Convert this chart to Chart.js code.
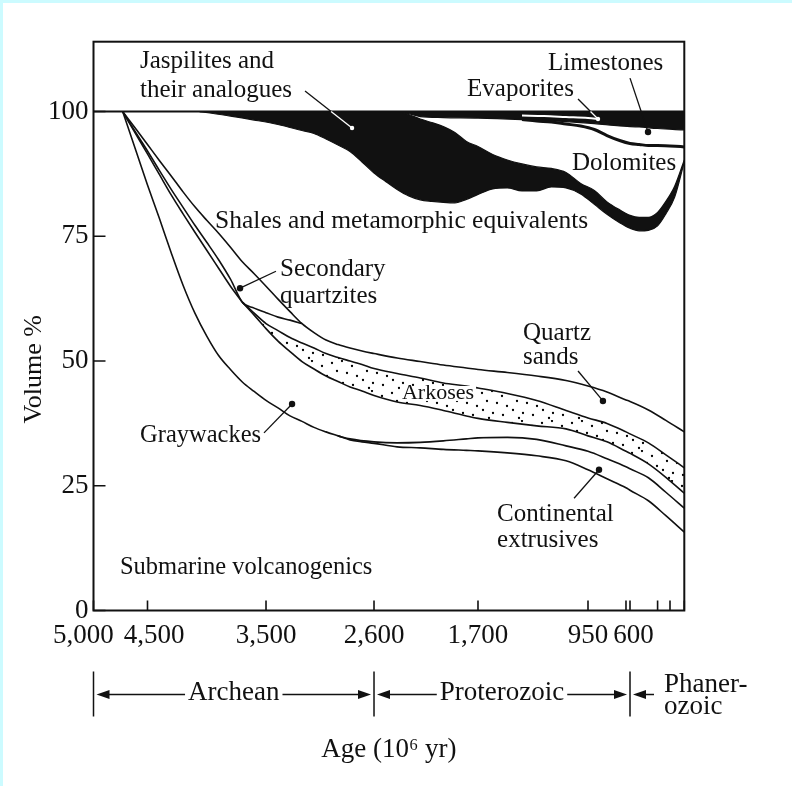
<!DOCTYPE html>
<html lang="en">
<head>
<meta charset="UTF-8">
<title>Sedimentary rock composition through time</title>
<script src="https://cdn.jsdelivr.net/npm/chart.js"></script>
<style>
    html, body { margin: 0; padding: 0; background: #fff; }
</style>
</head>
<body>
<canvas id="grafico" width="792" height="786"></canvas>

<script>
    // x axis: age in millions of years, drawn on a stretched geologic scale
    const tickAges = [5000, 4500, 3500, 2600, 1700, 950, 650, 600, 300, 150, 0];
    const tickLabels = ['5,000   ', '  4,500', '3,500', '2,600', '1,700', '950', '', ' 600', '', '', ''];
    const tickFrac = [0, 0.0914, 0.292, 0.4748, 0.6508, 0.837, 0.9013, 0.9081, 0.9548, 0.9758, 1];
    const volTicks = [0, 25, 50, 75, 100];

    // boundaries between rock types (volume %)
    const agesMain = [4730, 4600, 4500, 4400, 4300, 4200, 4100, 4000, 3900, 3800, 3700, 3600, 3500, 3400, 3300, 3200, 3100, 3000, 2900, 2800, 2700, 2600, 2400, 2200, 2000, 1800, 1700, 1500, 1300, 1100, 950, 800, 650, 600, 400, 200, 0];
    const volcanogenicTop = [100, 91.7, 85.3, 78.6, 71.7, 65.2, 59.6, 55.0, 51.1, 48.3, 45.8, 43.9, 42.1, 40.6, 39.0, 37.9, 36.7, 35.8, 35.0, 34.2, 33.8, 33.5, 32.8, 32.6, 32.3, 32.1, 32.0, 31.6, 31.0, 30.0, 28.2, 26.4, 24.6, 24.1, 22.0, 19.0, 15.7];
    const shaleBottom = [100, 96.3, 93.4, 90.2, 87.1, 83.9, 80.9, 78.2, 75.6, 72.8, 69.9, 67.5, 65.0, 62.4, 59.9, 57.5, 55.7, 54.2, 53.3, 52.6, 52.0, 51.5, 50.6, 49.9, 49.2, 48.6, 48.3, 47.7, 47.0, 46.1, 45.0, 43.8, 42.2, 41.9, 40.2, 38.1, 35.8];

    const agesExtrusive = [2900, 2800, 2600, 2400, 2200, 2000, 1800, 1700, 1500, 1300, 1100, 950, 800, 650, 600, 400, 200, 0];
    const extrusiveTop = [35.0, 34.4, 33.8, 33.6, 33.7, 34.0, 34.4, 34.6, 34.7, 34.3, 33.0, 31.9, 30.4, 28.8, 28.4, 26.6, 23.7, 20.5];

    const agesEarly = [4730, 4600, 4500, 4400, 4300, 4200, 4100, 4000, 3900, 3800, 3700];
    const graywackeTopEarly = [100, 95.2, 91.5, 87.4, 83.3, 79.5, 75.8, 72.2, 68.6, 65.0, 61.8];

    const agesArkose = [3700, 3600, 3500, 3400, 3300, 3200, 3100, 3000, 2900, 2800, 2700, 2600, 2400, 2200, 2000, 1800, 1700, 1500, 1300, 1100, 950, 800, 650, 600, 400, 200, 0];
    const arkoseBottom = [61.8, 59.2, 56.5, 54.0, 51.9, 49.9, 48.4, 47.0, 45.9, 44.8, 44.0, 43.1, 41.8, 41.1, 40.1, 39.0, 38.5, 37.7, 37.0, 36.4, 35.0, 33.8, 31.9, 31.5, 29.4, 26.7, 23.5];
    const arkoseTop = [61.8, 59.6, 57.5, 56.1, 54.7, 53.6, 52.6, 51.5, 50.7, 50.0, 49.3, 48.5, 47.5, 46.6, 45.6, 45.0, 44.6, 43.5, 42.1, 40.1, 38.6, 37.5, 35.8, 35.4, 33.6, 31.2, 28.6];

    const agesQuartzite = [4730, 4600, 4500, 4400, 4300, 4200, 4100, 4000, 3900, 3800, 3700, 3600, 3500, 3400, 3300, 3200];
    const quartziteBottom = [100, 95.5, 92.1, 88.2, 84.4, 80.8, 77.2, 73.8, 70.3, 66.4, 61.8, 60.6, 59.7, 58.8, 58.2, 57.5];

    // jaspilites: black mass between these two edges
    const agesJasp = [4060, 3800, 3600, 3400, 3200, 3100, 3000, 2900, 2800, 2700, 2600, 2500, 2400, 2300, 2200, 2100, 2000, 1900, 1800, 1700, 1600, 1500, 1400, 1300, 1200, 1100, 1000, 900, 800, 700, 600, 500, 400, 300, 200, 100, 0];
    const jaspTop = [100, 100, 100, 100, 100, 100, 100, 100, 100, 100, 100, 100, 100, 99.4, 98.5, 97.8, 97.0, 95.8, 94.0, 93.0, 91.4, 90.3, 89.5, 88.9, 88.6, 87.8, 85.6, 84.2, 81.9, 80.3, 79.2, 78.8, 78.8, 79.8, 82.0, 85.1, 90.3];
    const jaspBottom = [100, 99.1, 98.3, 97.4, 96.2, 95.6, 94.5, 93.3, 92.0, 89.9, 87.7, 86.0, 84.4, 83.1, 82.3, 82.0, 81.8, 81.7, 82.4, 83.4, 84.5, 84.7, 84.1, 84.1, 84.9, 84.7, 83.5, 81.4, 79.4, 77.7, 76.6, 76.1, 76.2, 77.1, 79.5, 82.9, 89.9];

    // carbonates and evaporites near the top
    const agesBand = [2400, 2300, 2200, 2000, 1700, 1400, 1100, 900, 700, 500, 300, 0];
    const bandBottom = [100, 99.6, 99.0, 98.8, 98.7, 98.4, 98.0, 97.6, 97.1, 96.9, 96.6, 96.3];
    const agesEvap = [1400, 1250, 1100, 950, 860];
    const evapLine = [99.2, 99.1, 98.9, 98.7, 98.5];
    const agesDolo = [1400, 1300, 1200, 1100, 1000, 900, 800, 700, 600, 500, 400, 300, 0];
    const doloTop = [98.4, 98.1, 97.9, 97.5, 97.1, 96.4, 95.2, 94.2, 93.6, 93.4, 93.2, 93.2, 92.9];

    // text labels: [text, age, volume %, font size, clear behind]
    const notes = [
        ['Jaspilites and', 4569, 110.1, 25],
        ['their analogues', 4569, 104.3, 25],
        ['Limestones', 1223, 109.7, 25],
        ['Evaporites', 1795, 104.5, 25],
        ['Dolomites', 1059, 89.7, 25],
        ['Shales and metamorphic equivalents', 3930, 78.1, 25.5],
        ['Secondary', 3383, 68.4, 25],
        ['quartzites', 3383, 63.0, 25],
        ['Quartz', 1393, 55.6, 25],
        ['sands', 1393, 50.8, 25],
        ['Arkoses', 2358, 43.6, 22, true],
        ['Graywackes', 4569, 35.0, 24.5],
        ['Continental', 1570, 19.3, 25],
        ['extrusives', 1570, 14.1, 25],
        ['Submarine volcanogenics', 4755, 8.7, 24.5]
    ];

    // leader lines: [fromAge, fromVol, toAge, toVol, turns white below this volume]
    const leaders = [
        [3175, 104.1, 2783, 96.7, 100],
        [1018, 102.5, 871, 98.5, 100],
        [600, 106.7, 404, 95.9, null],
        [3417, 68.0, 3719, 64.6, null],
        [1018, 48.0, 832, 42.0, null],
        [3517, 35.6, 3283, 41.4, null],
        [1045, 22.5, 863, 28.2, null]
    ];

    const eraBounds = [5000, 2600, 600, 0];
    const eraNames = ['Archean', 'Proterozoic', ['Phaner-', 'ozoic']];

    const ink = '#111';
    const serif = '"Liberation Serif", "Times New Roman", serif';

    function ageToFrac(age) {
        for (let i = 1; i < tickAges.length; i++) {
            if (age >= tickAges[i] || i === tickAges.length - 1) {
                const t = (tickAges[i - 1] - age) / (tickAges[i - 1] - tickAges[i]);
                return tickFrac[i - 1] + t * (tickFrac[i] - tickFrac[i - 1]);
            }
        }
        return 1;
    }

    function fracToAge(f) {
        for (let i = 1; i < tickFrac.length; i++) {
            if (f <= tickFrac[i] || i === tickFrac.length - 1) {
                const t = (f - tickFrac[i - 1]) / (tickFrac[i] - tickFrac[i - 1]);
                return tickAges[i - 1] + t * (tickAges[i] - tickAges[i - 1]);
            }
        }
        return 0;
    }

    class AgeScale extends Chart.LinearScale {
        buildTicks() {
            return tickAges.map(v => ({ value: v }));
        }
        getPixelForValue(value) {
            return this.left + this.width * ageToFrac(value);
        }
        getValueForPixel(pixel) {
            return fracToAge((pixel - this.left) / this.width);
        }
    }
    AgeScale.id = 'age';
    AgeScale.defaults = Chart.LinearScale.defaults;
    Chart.register(AgeScale);

    // stippled fill for the arkoses
    function stipple() {
        const c = document.createElement('canvas');
        c.width = 30;
        c.height = 30;
        const g = c.getContext('2d');
        g.fillStyle = '#000';
        [[2, 3], [12, 1], [22, 6], [7, 11], [17, 13], [27, 16], [3, 20], [13, 23], [23, 25], [9, 28]].forEach(([a, b]) => {
            g.beginPath();
            g.arc(a, b, 1.15, 0, Math.PI * 2);
            g.fill();
        });
        return g.createPattern(c, 'repeat');
    }

    function serie(ages, vols, extra) {
        return Object.assign({
            data: ages.map((a, i) => ({ x: a, y: vols[i] })),
            borderColor: ink,
            borderWidth: 1.6,
            pointRadius: 0,
            fill: false,
            order: 1
        }, extra || {});
    }

    function arrow(ctx, fromX, toX, y) {
        const dir = Math.sign(toX - fromX);
        ctx.beginPath();
        ctx.moveTo(fromX, y);
        ctx.lineTo(toX - dir * 8, y);
        ctx.stroke();
        ctx.beginPath();
        ctx.moveTo(toX, y);
        ctx.lineTo(toX - dir * 13, y - 4.5);
        ctx.lineTo(toX - dir * 13, y + 4.5);
        ctx.closePath();
        ctx.fill();
    }

    const decor = {
        id: 'decor',
        beforeDraw(chart) {
            const { ctx, width, height } = chart;
            ctx.save();
            ctx.fillStyle = '#fff';
            ctx.fillRect(0, 0, width, height);
            ctx.fillStyle = '#ccfbff';
            ctx.fillRect(0, 0, width, 3);
            ctx.fillRect(0, 0, 3, height);
            ctx.restore();
        },
        afterDraw(chart) {
            const { ctx, chartArea: a, scales: { x, y } } = chart;
            ctx.save();
            ctx.strokeStyle = ink;
            ctx.fillStyle = ink;

            // frame and inward ticks
            ctx.lineWidth = 2;
            ctx.strokeRect(a.left, a.top, a.right - a.left, a.bottom - a.top);
            ctx.lineWidth = 1.6;
            ctx.beginPath();
            x.ticks.forEach((t, i) => {
                const px = x.getPixelForTick(i);
                ctx.moveTo(px, a.bottom);
                ctx.lineTo(px, a.bottom - 10);
            });
            y.ticks.forEach((t, i) => {
                const py = y.getPixelForTick(i);
                ctx.moveTo(a.left, py);
                ctx.lineTo(a.left + 12, py);
            });
            ctx.stroke();

            // leader lines
            ctx.lineWidth = 1.3;
            leaders.forEach(([a0, v0, a1, v1, whiteBelow]) => {
                const x0 = x.getPixelForValue(a0), y0 = y.getPixelForValue(v0);
                const x1 = x.getPixelForValue(a1), y1 = y.getPixelForValue(v1);
                let xs = x1, ys = y1;
                if (whiteBelow !== null) {
                    ys = y.getPixelForValue(whiteBelow);
                    xs = x0 + (ys - y0) / (y1 - y0) * (x1 - x0);
                }
                ctx.strokeStyle = ink;
                ctx.beginPath();
                ctx.moveTo(x0, y0);
                ctx.lineTo(xs, ys);
                ctx.stroke();
                if (whiteBelow !== null) {
                    ctx.strokeStyle = '#fff';
                    ctx.beginPath();
                    ctx.moveTo(xs, ys);
                    ctx.lineTo(x1, y1);
                    ctx.stroke();
                }
                ctx.fillStyle = whiteBelow !== null ? '#fff' : ink;
                ctx.beginPath();
                ctx.arc(x1, y1, whiteBelow !== null ? 2.2 : 3.2, 0, Math.PI * 2);
                ctx.fill();
            });

            // labels inside the plot
            ctx.textAlign = 'left';
            ctx.textBaseline = 'middle';
            notes.forEach(([text, age, vol, size, clear]) => {
                const px = x.getPixelForValue(age), py = y.getPixelForValue(vol);
                ctx.font = size + 'px ' + serif;
                if (clear) {
                    ctx.fillStyle = '#fff';
                    ctx.fillRect(px - 2, py - 7, ctx.measureText(text).width + 4, 15);
                }
                ctx.fillStyle = ink;
                ctx.fillText(text, px, py);
            });

            // axis title for volume, centred a little below the middle as in the figure
            ctx.save();
            ctx.font = '26px ' + serif;
            ctx.textAlign = 'center';
            ctx.translate(34, a.top + (a.bottom - a.top) * 0.576);
            ctx.rotate(-Math.PI / 2);
            ctx.fillText('Volume %', 0, 0);
            ctx.restore();

            // eras under the age axis
            const barTop = a.bottom + 61, barBottom = a.bottom + 106, arrowY = a.bottom + 84;
            ctx.strokeStyle = ink;
            ctx.lineWidth = 1.5;
            ctx.beginPath();
            eraBounds.slice(0, -1).forEach(age => {
                const px = x.getPixelForValue(age);
                ctx.moveTo(px, barTop);
                ctx.lineTo(px, barBottom);
            });
            ctx.stroke();
            ctx.font = '27px ' + serif;
            eraNames.forEach((name, i) => {
                const left = x.getPixelForValue(eraBounds[i]);
                const right = x.getPixelForValue(eraBounds[i + 1]);
                if (Array.isArray(name)) {
                    arrow(ctx, left + 24, left + 3, arrowY);
                    ctx.textAlign = 'left';
                    name.forEach((line, k) => ctx.fillText(line, left + 34, arrowY - 10 + k * 22));
                    return;
                }
                const mid = (left + right) / 2;
                const w = ctx.measureText(name).width;
                ctx.textAlign = 'center';
                ctx.fillText(name, mid, arrowY - 2);
                arrow(ctx, mid - w / 2 - 3, left + 3, arrowY);
                arrow(ctx, mid + w / 2 + 3, right - 3, arrowY);
            });
            ctx.restore();
        }
    };

    const ctxGrafico = document.getElementById('grafico');

    new Chart(ctxGrafico, {
        type: 'line',
        data: {
            datasets: [
                serie([5000, 0], [100, 100], { borderWidth: 2, order: 0 }),
                serie(agesJasp, jaspTop, { borderWidth: 1.2 }),
                serie(agesJasp, jaspBottom, { borderWidth: 1.2, fill: 1, backgroundColor: ink, order: 2 }),
                serie(agesBand, bandBottom, { borderWidth: 1.2, fill: { value: 100 }, backgroundColor: ink, order: 2 }),
                serie(agesEvap, evapLine, { borderColor: '#fff', borderWidth: 2, order: 0 }),
                serie(agesDolo, doloTop, { borderWidth: 3 }),
                serie(agesMain, volcanogenicTop),
                serie(agesExtrusive, extrusiveTop),
                serie(agesEarly, graywackeTopEarly),
                serie(agesArkose, arkoseBottom, { fill: 10, backgroundColor: stipple(), order: 2 }),
                serie(agesArkose, arkoseTop),
                serie(agesQuartzite, quartziteBottom),
                serie(agesMain, shaleBottom)
            ]
        },
        options: {
            responsive: false,
            animation: false,
            events: [],
            layout: { padding: { top: 41.7, right: 107.7, left: 0, bottom: 0 } },
            elements: {
                line: { cubicInterpolationMode: 'monotone' }
            },
            plugins: {
                legend: { display: false },
                tooltip: { enabled: false }
            },
            scales: {
                x: {
                    type: 'age',
                    min: 0,
                    max: 5000,
                    grid: { display: false, drawTicks: false },
                    border: { display: false },
                    ticks: {
                        autoSkip: false,
                        maxRotation: 0,
                        padding: 9,
                        color: ink,
                        font: { family: serif, size: 27 },
                        callback: (value, index) => tickLabels[index]
                    },
                    title: {
                        display: true,
                        text: 'Age (10⁶ yr)',
                        color: ink,
                        font: { family: serif, size: 27 },
                        padding: { top: 0, bottom: 20 }
                    },
                    afterFit: scale => { scale.height = 175.5; }
                },
                y: {
                    min: 0,
                    max: 114,
                    afterBuildTicks: scale => { scale.ticks = volTicks.map(v => ({ value: v })); },
                    grid: { display: false, drawTicks: false },
                    border: { display: false },
                    ticks: {
                        padding: 5,
                        color: ink,
                        font: { family: serif, size: 27 }
                    },
                    afterFit: scale => { scale.width = 93.5; }
                }
            }
        },
        plugins: [decor]
    });
</script>
</body>
</html>
